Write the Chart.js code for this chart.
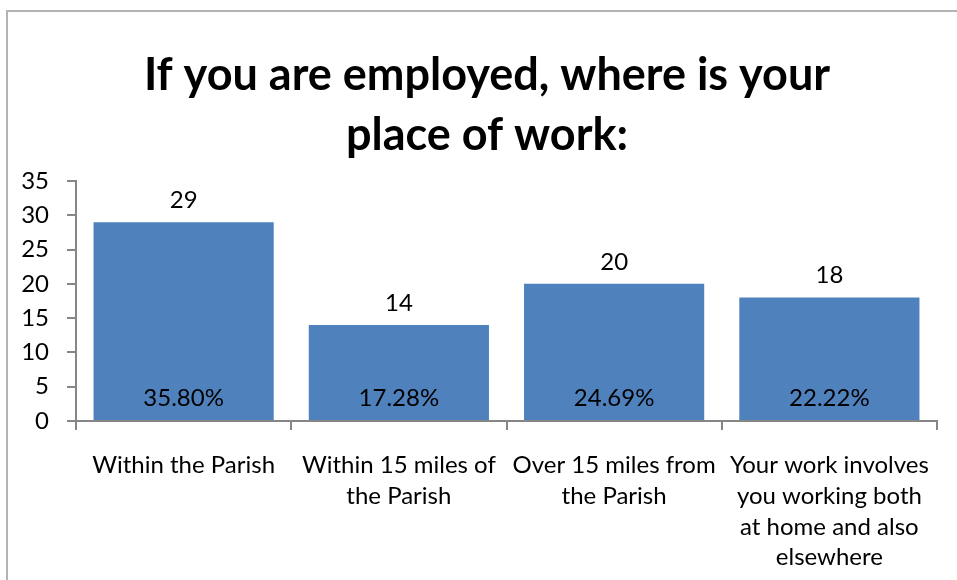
<!DOCTYPE html>
<html>
<head>
<meta charset="utf-8">
<script src="https://cdn.jsdelivr.net/npm/chart.js@4"></script>
<style>
    html, body { margin: 0; padding: 0; background: #fff; }
    #wrap { position: relative; width: 957px; height: 580px; overflow: hidden; }
    #frame { position: absolute; left: 6px; top: 10px; width: 1000px; height: 700px;
             border-left: 2px solid #b3b3b3; border-top: 2px solid #b3b3b3; }
    canvas { position: absolute; left: 0; top: 0; }
</style>
</head>
<body>
<div id="wrap">
    <div id="frame"></div>
    <canvas id="chart" width="957" height="580"></canvas>
</div>
<script>

const titleLines = [ 'If you are employed, where is your', 'place of work:' ];

const categories = [
    [ 'Within the Parish' ],
    [ 'Within 15 miles of', 'the Parish' ],
    [ 'Over 15 miles from', 'the Parish' ],
    [ 'Your work involves', 'you working both', 'at home and also', 'elsewhere' ]
];

const counts = [ 29, 14, 20, 18 ];
const shares = [ '35.80%', '17.28%', '24.69%', '22.22%' ];

const yTicks = [ 0, 5, 10, 15, 20, 25, 30, 35 ];

const FONT = 'Lato, "Open Sans", sans-serif';
const AXIS = '#868686';

// Two-line bold title, centred over the frame rather than the canvas
const chartTitle = {
    id: 'chartTitle',
    afterDraw ( chart ) {

        const ctx = chart.ctx;

        ctx.save();
        ctx.fillStyle = '#000';
        ctx.font = `bold 45px ${FONT}`;
        ctx.textAlign = 'center';
        ctx.textBaseline = 'middle';
        titleLines.forEach( ( line, i ) => ctx.fillText( line, 487, 75 + i * 60 ) );
        ctx.restore();

    }
};

// Draws the count above each bar and the share near the bottom of each bar
const barLabels = {
    id: 'barLabels',
    afterDatasetsDraw ( chart ) {

        const ctx = chart.ctx;
        const meta = chart.getDatasetMeta( 0 );
        const base = chart.scales.y.getPixelForValue( 0 );

        ctx.save();
        ctx.fillStyle = '#000';
        ctx.font = `24px ${FONT}`;
        ctx.textAlign = 'center';
        ctx.textBaseline = 'middle';

        meta.data.forEach( ( bar, i ) => {
            ctx.fillText( String( counts[ i ] ), bar.x, bar.y - 22 );
            ctx.fillText( shares[ i ], bar.x, base - 23 );
        } );

        ctx.restore();

    }
};

new Chart( document.getElementById( 'chart' ).getContext( '2d' ), {
    type: 'bar',
    data: {
        labels: categories,
        datasets: [ {
            data: counts,
            backgroundColor: '#4f81bd',
            borderWidth: 0,
            categoryPercentage: 1,
            barPercentage: 0.837
        } ]
    },
    options: {
        responsive: false,
        animation: false,
        layout: { padding: { left: 0, right: 20, top: 181, bottom: 0 } },
        plugins: {
            legend: { display: false },
            tooltip: { enabled: false },
            title: { display: false }
        },
        scales: {
            x: {
                grid: { drawOnChartArea: false, tickLength: 9, color: AXIS, lineWidth: 2, offset: true },
                border: { color: AXIS, width: 2 },
                ticks: {
                    color: '#000',
                    font: { family: FONT, size: 24, lineHeight: 1.28 },
                    padding: 20,
                    maxRotation: 0,
                    autoSkip: false
                },
                afterFit: scale => { scale.height = 159; }
            },
            y: {
                min: 0,
                max: 35,
                afterBuildTicks: scale => { scale.ticks = yTicks.map( v => ( { value: v } ) ); },
                grid: { drawOnChartArea: false, tickLength: 9, color: AXIS, lineWidth: 2 },
                border: { color: AXIS, width: 2 },
                ticks: {
                    color: '#000',
                    font: { family: FONT, size: 24 },
                    padding: 18
                },
                afterFit: scale => { scale.width = 76; }
            }
        }
    },
    plugins: [ barLabels, chartTitle ]
} );

</script>
</body>
</html>
